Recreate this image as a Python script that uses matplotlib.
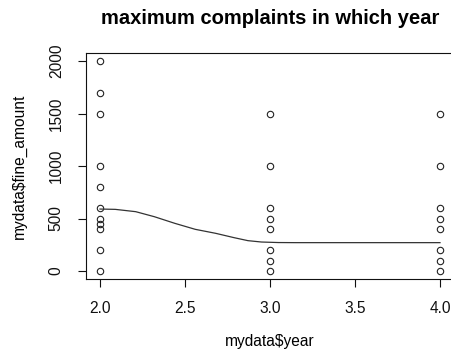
import matplotlib
matplotlib.use("Agg")
import matplotlib.pyplot as plt

# scatter of fine amount per year
year_2 = [2.0] * 11
fine_2 = [2000, 1700, 1500, 1000, 800, 600, 500, 450, 400, 200, 0]
year_3 = [3.0] * 8
fine_3 = [1500, 1000, 600, 500, 400, 200, 100, 0]
year_4 = [4.0] * 8
fine_4 = [1500, 1000, 600, 500, 400, 200, 100, 0]

# smoothed curve
curve_x = [2.0, 2.09, 2.21, 2.32, 2.44, 2.56, 2.68, 2.79, 2.87, 2.95, 3.05, 3.15, 3.5, 4.0]
curve_y = [590, 587, 565, 517, 454, 397, 359, 317, 289, 276, 271, 270, 270, 270]

xticks = [2.0, 2.5, 3.0, 3.5, 4.0]
yticks = [0, 500, 1000, 1500, 2000]

plt.rcParams["font.family"] = ["Liberation Sans", "DejaVu Sans"]

W, H = 451, 352
fig = plt.figure(figsize=(W / 100, H / 100), dpi=100)
left, right, bottom, top = 86.4, 453.6, 279.4, 52.6
ax = fig.add_axes([left / W, 1 - bottom / H, (right - left) / W, (bottom - top) / H])

xs = year_2 + year_3 + year_4
ys = fine_2 + fine_3 + fine_4
ax.plot(xs, ys, "o", mfc="none", mec="#222222", ms=4.6, mew=0.8)
ax.plot(curve_x, curve_y, color="#333333", lw=0.9)

ax.set_xlim(1.92, 4.08)
ax.set_ylim(-80, 2080)
ax.set_xticks(xticks, [f"{v:.1f}" for v in xticks])
ax.set_yticks(yticks, [str(v) for v in yticks])
ax.tick_params(direction="out", length=5.8, width=0.8, labelsize=11.2,
               colors="#111111")
ax.tick_params(axis="x", pad=9.5)
ax.tick_params(axis="y", pad=10.5)
plt.setp(ax.get_yticklabels(), rotation=90, va="center")
for s in ax.spines.values():
    s.set_linewidth(0.8)
    s.set_color("#111111")

ax.set_xlabel("mydata$year", fontsize=11.2, va="center")
ax.xaxis.set_label_coords(0.5, -62.6 / (bottom - top))
ax.set_ylabel("mydata$fine_amount", fontsize=11.2, va="center")
ax.yaxis.set_label_coords(-67.5 / (right - left), 0.5)
ax.text(0.5, 1 + 34.6 / (bottom - top), "maximum complaints in which year",
        transform=ax.transAxes, ha="center", va="center",
        fontsize=14.5, fontweight="bold")

fig.savefig("out.png", dpi=100)
